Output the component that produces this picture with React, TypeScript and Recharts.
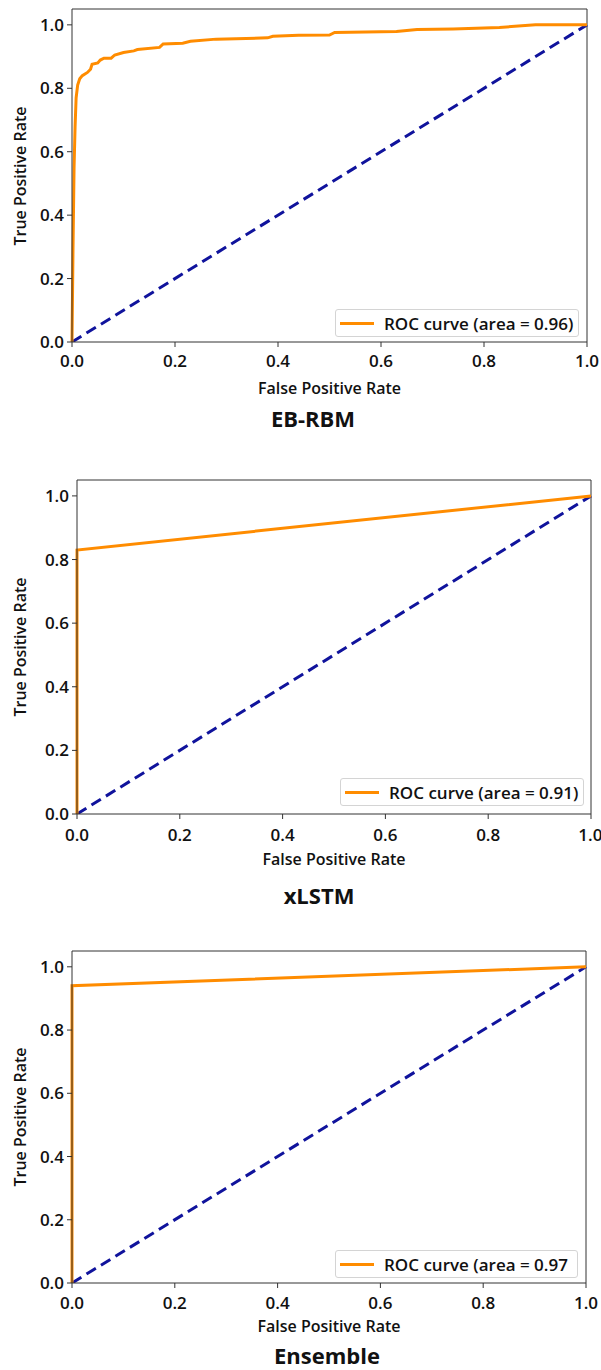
import { LineChart, Line, XAxis, YAxis, ReferenceLine, Legend } from 'recharts'

// axis ticks shared by all three panels
const xTicks = [0, 0.2, 0.4, 0.6, 0.8, 1.0]
const yTicks = [0, 0.2, 0.4, 0.6, 0.8, 1.0]

// chance diagonal
const chanceLine = [
  { fpr: 0, tpr: 0 },
  { fpr: 1, tpr: 1 },
]

// ROC points
const ebRbmRoc = [
  { fpr: 0, tpr: 0 },
  { fpr: 0.002, tpr: 0.3 },
  { fpr: 0.004, tpr: 0.55 },
  { fpr: 0.006, tpr: 0.68 },
  { fpr: 0.008, tpr: 0.77 },
  { fpr: 0.011, tpr: 0.81 },
  { fpr: 0.015, tpr: 0.83 },
  { fpr: 0.02, tpr: 0.84 },
  { fpr: 0.03, tpr: 0.85 },
  { fpr: 0.036, tpr: 0.86 },
  { fpr: 0.039, tpr: 0.876 },
  { fpr: 0.05, tpr: 0.88 },
  { fpr: 0.055, tpr: 0.889 },
  { fpr: 0.062, tpr: 0.895 },
  { fpr: 0.076, tpr: 0.895 },
  { fpr: 0.083, tpr: 0.905 },
  { fpr: 0.1, tpr: 0.913 },
  { fpr: 0.12, tpr: 0.918 },
  { fpr: 0.127, tpr: 0.922 },
  { fpr: 0.17, tpr: 0.929 },
  { fpr: 0.177, tpr: 0.94 },
  { fpr: 0.215, tpr: 0.942 },
  { fpr: 0.23, tpr: 0.948 },
  { fpr: 0.28, tpr: 0.955 },
  { fpr: 0.38, tpr: 0.959 },
  { fpr: 0.39, tpr: 0.964 },
  { fpr: 0.44, tpr: 0.967 },
  { fpr: 0.5, tpr: 0.968 },
  { fpr: 0.51, tpr: 0.976 },
  { fpr: 0.63, tpr: 0.979 },
  { fpr: 0.67, tpr: 0.985 },
  { fpr: 0.74, tpr: 0.987 },
  { fpr: 0.83, tpr: 0.992 },
  { fpr: 0.9, tpr: 1.0 },
  { fpr: 1, tpr: 1.0 },
]

const xlstmRoc = [
  { fpr: 0, tpr: 0 },
  { fpr: 0, tpr: 0.83 },
  { fpr: 1, tpr: 1 },
]

const ensembleRoc = [
  { fpr: 0, tpr: 0 },
  { fpr: 0, tpr: 0.94 },
  { fpr: 1, tpr: 1 },
]

const titles = ['EB-RBM', 'xLSTM', 'Ensemble']
const legendLabels = ['ROC curve (area = 0.96)', 'ROC curve (area = 0.91)', 'ROC curve (area = 0.97']
const rocSeries = [ebRbmRoc, xlstmRoc, ensembleRoc]

// page layout of each panel (pixels)
const panels = [
  { top: 9, bottom: 342, left: 72, right: 587, tickMargin: 8, axisLabelY: 388, titleX: 313, titleY: 418, legend: { left: 335, top: 309, width: 244, height: 28 } },
  { top: 480, bottom: 814, left: 77, right: 591, tickMargin: 10, axisLabelY: 859, titleX: 319, titleY: 895, legend: { left: 340, top: 778, width: 244, height: 28 } },
  { top: 951, bottom: 1283, left: 72, right: 586, tickMargin: 9, axisLabelY: 1326, titleX: 327, titleY: 1355, legend: { left: 335, top: 1250, width: 243, height: 28 } },
]

const FONT = "'Open Sans', sans-serif"
const ORANGE = '#ff8c00'
const NAVY = '#10139c'
const INK = '#111'

function RocLegend({ label }: { label: string }) {
  return (
    <div
      style={{
        boxSizing: 'border-box',
        width: '100%',
        height: '100%',
        border: '1px solid #d4d4d4',
        borderRadius: 3,
        background: '#fff',
        display: 'flex',
        alignItems: 'center',
        fontFamily: FONT,
        fontSize: 17,
        fontWeight: 600,
        color: INK,
        whiteSpace: 'nowrap',
      }}
    >
      <div style={{ width: 34, height: 3, background: ORANGE, marginLeft: 4, marginRight: 10, flexShrink: 0 }} />
      <span>{label}</span>
    </div>
  )
}

function RocPanel({ idx }: { idx: number }) {
  const p = panels[idx]
  const chartTop = p.top - 2
  const height = p.bottom - chartTop + 40
  const tickStyle = { fill: INK, fontSize: 17, fontWeight: 600, fontFamily: FONT }
  return (
    <>
      <div style={{ position: 'absolute', left: 0, top: chartTop }}>
        <LineChart width={601} height={height} margin={{ top: 2, right: 601 - p.right, left: 0, bottom: 0 }}>
          <XAxis
            type="number"
            dataKey="fpr"
            domain={[0, 1]}
            ticks={xTicks}
            tickFormatter={(v: number) => v.toFixed(1)}
            tick={tickStyle}
            tickSize={5}
            tickMargin={p.tickMargin}
            axisLine={{ stroke: '#333' }}
            tickLine={{ stroke: '#333' }}
            height={40}
          />
          <YAxis
            type="number"
            dataKey="tpr"
            domain={[0, 1.05]}
            ticks={yTicks}
            allowDataOverflow
            tickFormatter={(v: number) => v.toFixed(1)}
            tick={tickStyle}
            tickSize={5}
            tickMargin={3}
            axisLine={{ stroke: '#333' }}
            tickLine={{ stroke: '#333' }}
            width={p.left}
          />
          <ReferenceLine y={1.05} stroke="#333" ifOverflow="visible" />
          <ReferenceLine x={1} stroke="#333" ifOverflow="visible" />
          <Line
            data={chanceLine}
            dataKey="tpr"
            type="linear"
            stroke={NAVY}
            strokeWidth={3}
            strokeDasharray="11 6"
            dot={false}
            legendType="none"
            isAnimationActive={false}
          />
          <Line
            data={rocSeries[idx]}
            dataKey="tpr"
            name={legendLabels[idx]}
            type="linear"
            stroke={ORANGE}
            strokeWidth={3}
            dot={false}
            isAnimationActive={false}
          />
          <Legend
            layout="vertical"
            align="center"
            verticalAlign="middle"
            wrapperStyle={{
              position: 'absolute',
              left: p.legend.left,
              top: p.legend.top - chartTop,
              width: p.legend.width,
              height: p.legend.height,
            }}
            content={() => <RocLegend label={legendLabels[idx]} />}
          />
        </LineChart>
      </div>
      <div
        style={{
          position: 'absolute',
          left: 20,
          top: (p.top + p.bottom) / 2,
          transform: 'translate(-50%, -50%) rotate(-90deg)',
          whiteSpace: 'nowrap',
          fontFamily: FONT,
          fontSize: 16,
          fontWeight: 600,
          lineHeight: '18px',
          color: INK,
        }}
      >
        True Positive Rate
      </div>
      <div
        style={{
          position: 'absolute',
          left: (p.left + p.right) / 2,
          top: p.axisLabelY,
          transform: 'translate(-50%, -50%)',
          whiteSpace: 'nowrap',
          fontFamily: FONT,
          fontSize: 16,
          fontWeight: 600,
          lineHeight: '16px',
          color: INK,
        }}
      >
        False Positive Rate
      </div>
      <div
        style={{
          position: 'absolute',
          left: p.titleX,
          top: p.titleY,
          transform: 'translate(-50%, -50%)',
          whiteSpace: 'nowrap',
          fontFamily: FONT,
          fontSize: 22,
          fontWeight: 700,
          lineHeight: '26px',
          color: INK,
        }}
      >
        {titles[idx]}
      </div>
    </>
  )
}

export default function App() {
  return (
    <div style={{ position: 'absolute', left: 0, top: 0, width: 601, height: 1370, background: '#fff', overflow: 'hidden' }}>
      {panels.map((_, i) => (
        <RocPanel key={i} idx={i} />
      ))}
    </div>
  )
}
